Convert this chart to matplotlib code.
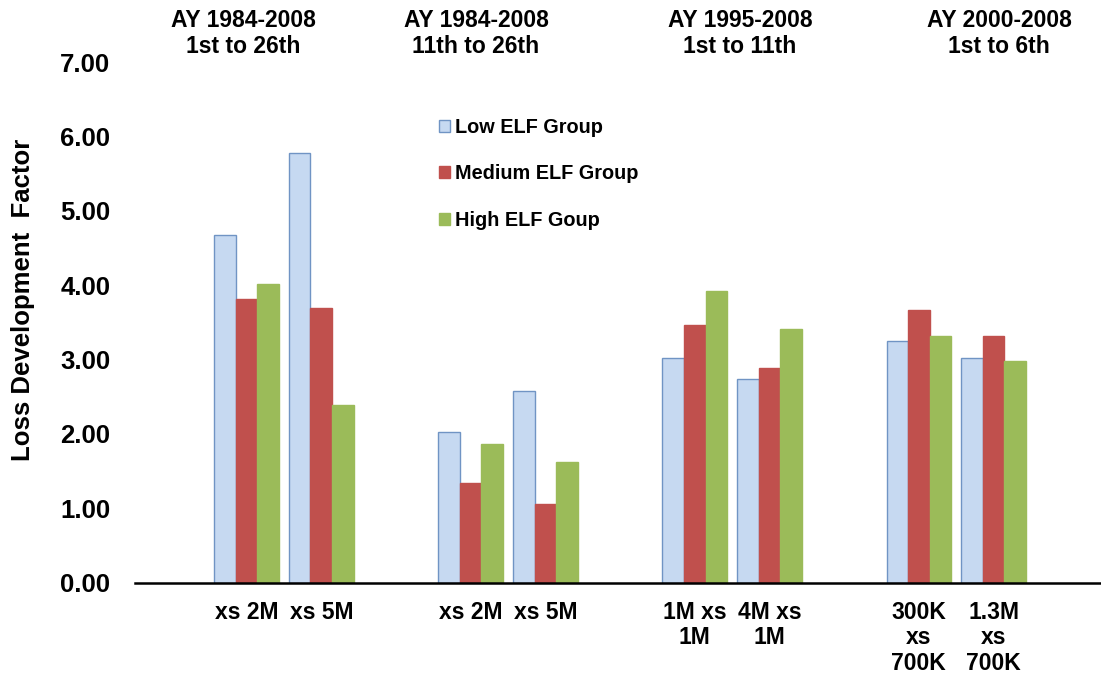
import matplotlib
matplotlib.use("Agg")
import matplotlib.pyplot as plt
from matplotlib.patches import Patch
import numpy as np

plt.rcParams['font.family'] = ['Liberation Sans', 'DejaVu Sans']
plt.rcParams['font.weight'] = 'bold'

# data
categories = ["xs 2M", "xs 5M", "xs 2M", "xs 5M",
              "1M xs\n1M", "4M xs\n1M", "300K\nxs\n700K", "1.3M\nxs\n700K"]
headings = ["AY 1984-2008\n1st to 26th", "AY 1984-2008\n11th to 26th",
            "AY 1995-2008\n1st to 11th", "AY 2000-2008\n1st to 6th"]
series_names = ["Low ELF Group", "Medium ELF Group", "High ELF Goup"]
low_elf = [4.68, 5.78, 2.02, 2.57, 3.02, 2.74, 3.25, 3.02]
medium_elf = [3.81, 3.69, 1.34, 1.05, 3.46, 2.89, 3.66, 3.32]
high_elf = [4.02, 2.39, 1.86, 1.62, 3.92, 3.41, 3.32, 2.98]

# colours (excel 2007 palette)
fills = ["#C6D9F1", "#C0504D", "#9BBB59"]
edges = ["#7094C4", "#C0504D", "#9BBB59"]

W, H = 1101, 677
fig = plt.figure(figsize=(W / 100, H / 100), dpi=100)
ax = fig.add_axes([134.5 / W, (H - 582.5) / H, (W - 134.5) / W, 520.5 / H])

# one empty slot before every pair of categories
slots = np.array([1 + 3 * (i // 2) + i % 2 for i in range(len(categories))])
bw = 0.288
for k, vals in enumerate([low_elf, medium_elf, high_elf]):
    ax.bar(slots + (k - 1) * bw, vals, width=bw, color=fills[k],
           edgecolor=edges[k], linewidth=1.0, label=series_names[k], zorder=2)

ax.set_xlim(-0.5, -0.5 + 966.5 / 74.7)
ax.set_ylim(0, 7)
ax.set_yticks(np.arange(0, 8, 1))
ax.set_yticklabels(["%.2f" % v for v in np.arange(0, 8, 1)], fontsize=18.5, fontweight='bold')
ax.set_xticks(slots)
ax.set_xticklabels(categories, fontsize=16.5, fontweight='bold', linespacing=1.15)
ax.tick_params(axis='y', length=0, pad=17.5)
ax.tick_params(axis='x', length=0, pad=13)

for s in ['top', 'right', 'left']:
    ax.spines[s].set_visible(False)
ax.spines['bottom'].set_linewidth(1.8)
ax.spines['bottom'].set_color('black')
ax.spines['bottom'].set_zorder(3)

fig.text(23 / W, 1 - 300 / H, "Loss Development  Factor", rotation=90,
         ha='center', va='center', fontsize=18.5, fontweight='bold')

# group headings (text boxes above each pair)
head_x = [243, 476, 740, 999]
for hx, txt in zip(head_x, headings):
    fig.text(hx / W, 1 - 33.5 / H, txt, ha='center', va='center',
             fontsize=16.5, fontweight='bold', linespacing=1.22)

handles = [Patch(facecolor=fills[k], edgecolor=edges[k], linewidth=1.0) for k in range(3)]
leg = fig.legend(handles, series_names, loc='upper left',
                 bbox_to_anchor=(439 / W, 1 - 118 / H), frameon=False,
                 fontsize=14.3, handlelength=0.55, handleheight=0.55,
                 handletextpad=0.25, labelspacing=1.38, borderpad=0, borderaxespad=0)
for t in leg.get_texts():
    t.set_fontweight('bold')

fig.savefig("out.png", dpi=100)
